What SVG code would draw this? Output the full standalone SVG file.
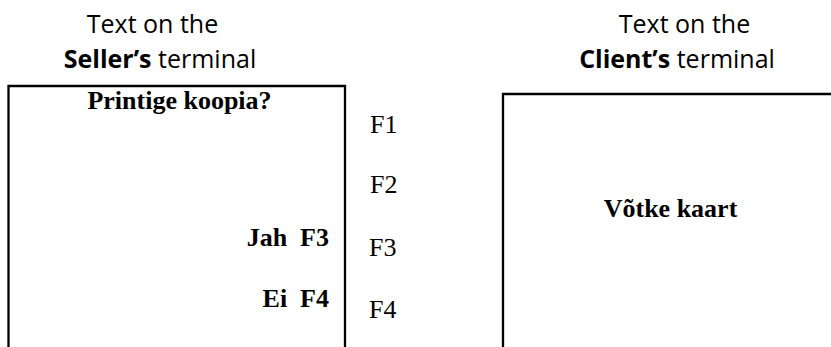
<svg xmlns="http://www.w3.org/2000/svg" width="831" height="347" viewBox="0 0 831 347">
<style>
.hd{font-family:"Open Sans","Liberation Sans",sans-serif;font-size:25px;fill:#000}
.b{font-weight:bold}
.tm{font-family:"Liberation Serif","Times New Roman",serif;font-size:26px;fill:#000;white-space:pre}
.frame{fill:none;stroke:#000;stroke-width:2.3}
</style>
<rect width="831" height="347" fill="#fff"/>
<g id="seller-heading">
<text class="hd" x="152.5" y="33" text-anchor="middle">Text on the</text>
<text class="hd" x="160" y="68" text-anchor="middle"><tspan class="b">Seller’s</tspan> terminal</text>
</g>
<g id="client-heading">
<text class="hd" x="684.5" y="33" text-anchor="middle">Text on the</text>
<text class="hd" x="677" y="68" text-anchor="middle"><tspan class="b">Client’s</tspan> terminal</text>
</g>
<g id="seller-screen">
<path class="frame" d="M8.5,350 V86 H345 V350"/>
<text class="tm b" x="179.5" y="109" text-anchor="middle">Printige koopia?</text>
<text class="tm b" x="329" y="246" text-anchor="end" xml:space="preserve">Jah  F3</text>
<text class="tm b" x="329" y="307" text-anchor="end" xml:space="preserve">Ei  F4</text>
</g>
<g id="function-keys">
<text class="tm" x="370" y="133">F1</text>
<text class="tm" x="370" y="193">F2</text>
<text class="tm" x="369" y="256">F3</text>
<text class="tm" x="369" y="318">F4</text>
</g>
<g id="client-screen">
<path class="frame" d="M503,350 V94 H835"/>
<text class="tm b" x="670.5" y="217" text-anchor="middle">Võtke kaart</text>
</g>
<g id="connectors"></g>
</svg>
